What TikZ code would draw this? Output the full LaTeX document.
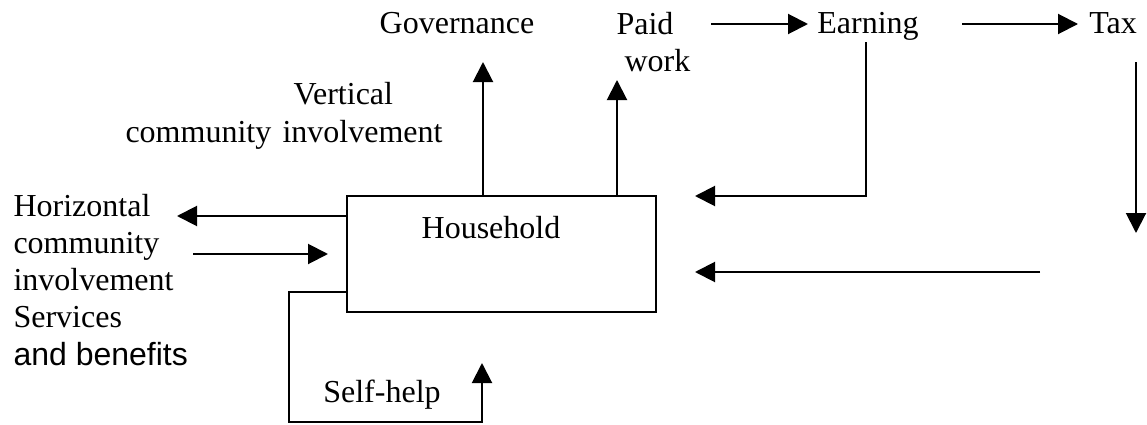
\documentclass[tikz,border=0pt]{standalone}
\usepackage{fontspec}
\setmainfont{Liberation Serif}
\setsansfont{Liberation Sans}
\usetikzlibrary{arrows.meta, positioning}

\begin{document}
\begin{tikzpicture}[
    x=0.375pt, y=-0.375pt,
    >={Triangle[length=7.5pt, width=7.5pt]},
    every node/.style={font=\fontsize{12}{13.9}\selectfont},
    flow/.style={->, line width=0.75pt},
    hhbox/.style={draw, line width=0.75pt, minimum width=115.9pt, minimum height=43.5pt},
    lbl/.style={inner sep=0pt, anchor=base},
]
\useasboundingbox (0,0) rectangle (1147,425);
% the household box
\node[hhbox] (hh) at (501.5,254) {};
\node[lbl] (hhtxt) at (491,238) {Household};

% labels round it (base = last line)
\node[lbl] (gov) at (457,33) {Governance};
\node[lbl, anchor=base west, align=left] (paid) at (616,72) {Paid\\\hspace{0.25em}work};
\node[lbl] (earn) at (868,33) {Earning};
\node[lbl] (tax) at (1113,33) {Tax};
\node[lbl, anchor=base west, align=left] (vert) at (125,142)
    {\hspace*{63pt}Vertical\\community\hspace{0.35em}involvement};
\node[lbl, anchor=base west, align=left] (horiz) at (13,365)
    {Horizontal\\community\\involvement\\Services\\\sffamily and benefits};
\node[lbl] (self) at (382,402) {Self-help};

% free ends of the connectors
\coordinate (govtip)   at (483,62);
\coordinate (paidtip)  at (617,80);
\coordinate (pw)       at (711,24);
\coordinate (ew)       at (808,24);
\coordinate (ee)       at (962,24);
\coordinate (tw)       at (1078,24);
\coordinate (es)       at (866,42);
\coordinate (back1)    at (695,196);
\coordinate (ts)       at (1136,62);
\coordinate (tb)       at (1136,233);
\coordinate (tr)       at (1040,272);
\coordinate (back2)    at (695,272);
\coordinate (horizout) at (177,216);
\coordinate (horizin0) at (193,254);
\coordinate (horizin)  at (328,254);
\coordinate (selfa)    at (289,292);
\coordinate (selfb)    at (289,422);
\coordinate (selftip)  at (482,363);

% upward flows out of the box
\draw[flow] (hh.north -| govtip) -- (govtip);
\draw[flow] (hh.north -| paidtip) -- (paidtip);

% work -> earning -> tax and back
\draw[flow] (pw) -- (ew);
\draw[flow] (ee) -- (tw);
\draw[flow] (es) |- (back1);
\draw[flow] (ts) -- (tb);
\draw[flow] (tr) -- (back2);

% community on the left
\draw[flow] (hh.west |- horizout) -- (horizout);
\draw[flow] (horizin0) -- (horizin);

% self-help loop
\draw[flow] (hh.west |- selfa) -| (selfb) -| (selftip);
\end{tikzpicture}
\end{document}
